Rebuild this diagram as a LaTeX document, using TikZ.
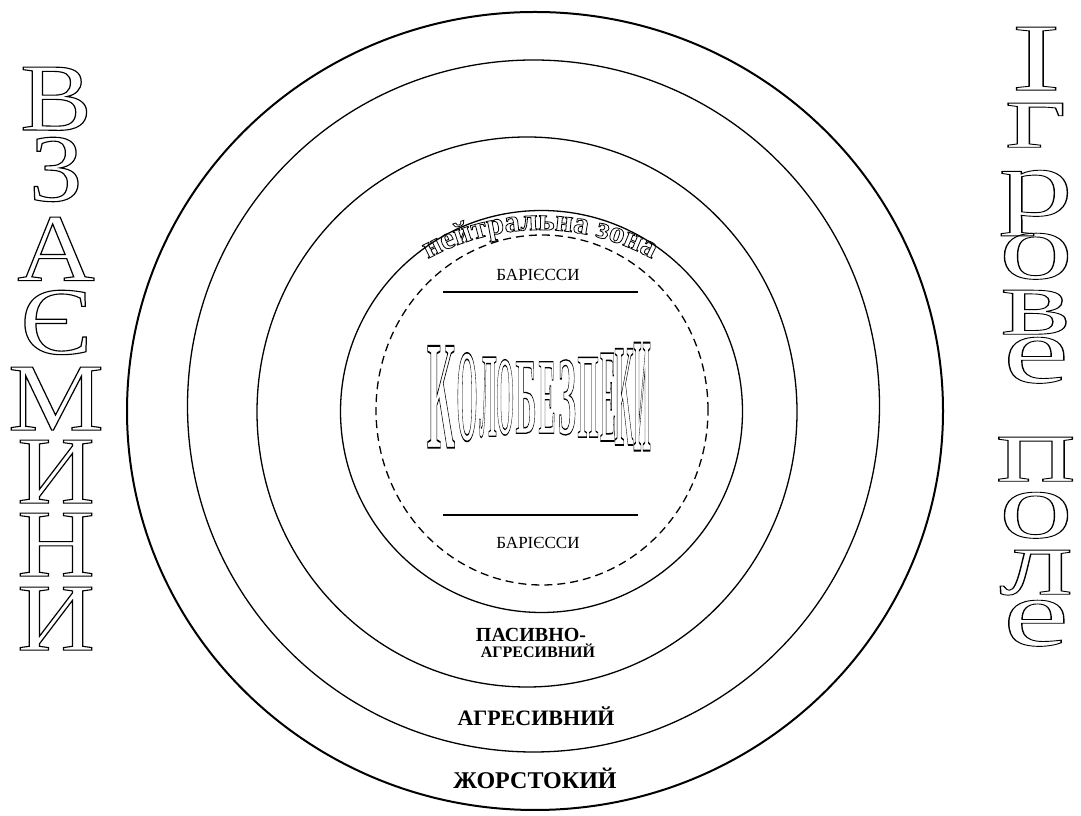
\documentclass[tikz,border=0pt]{standalone}
\usepackage{fontspec}
\setmainfont{Liberation Serif}
\usetikzlibrary{decorations.text}
\newcommand\olw[2]{\special{pdf:literal direct 1 Tr #1 w}#2\special{pdf:literal direct 0 Tr 0.4 w}}
\newcommand\olon{\special{pdf:literal direct 1 Tr 0.8 w}}
\begin{document}
\begin{tikzpicture}[x=1pt,y=1pt,
  ring/.style={line width=1.3pt},
  lbl/.style={inner sep=0pt, anchor=base},
  sidel/.style={inner sep=0pt, anchor=north, font=\fontsize{96}{96}\selectfont},
  bigl/.style={inner sep=0pt}]
\useasboundingbox (0,0) rectangle (1081,816);
\fill[white] (0,0) rectangle (1081,816);
% rings
\draw[line width=2pt] (535,405) ellipse [x radius=408pt, y radius=399pt];
\draw[ring] (533.5,410) ellipse [x radius=346pt, y radius=346pt];
\draw[ring] (527,404) ellipse [x radius=270pt, y radius=275pt];
\draw[ring] (541.5,404.5) ellipse [x radius=201pt, y radius=201pt];
\draw[ring, dash pattern=on 8pt off 5pt] (542,406) ellipse [x radius=166pt, y radius=175pt];
% barrier lines
\coordinate (l1a) at (443,524); \coordinate (l1b) at (638,524);
\coordinate (l2a) at (443,301); \coordinate (l2b) at (638,301);
\draw[line width=1.4pt] (l1a) -- (l1b);
\draw[line width=1.4pt] (l2a) -- (l2b);
\node[lbl, font=\fontsize{17}{17}\selectfont] (b1) at (538,535) {БАРІЄССИ};
\node[lbl, font=\fontsize{17}{17}\selectfont] (b2) at (538,267) {БАРІЄССИ};
% zone labels
\node[lbl, font=\bfseries\fontsize{20}{20}\selectfont] (pa1) at (531,174) {ПАСИВНО-};
\node[lbl, font=\bfseries\fontsize{16}{16}\selectfont] (pa2) at (538,158) {АГРЕСИВНИЙ};
\node[lbl, font=\bfseries\fontsize{22}{22}\selectfont] (ag) at (536,90) {АГРЕСИВНИЙ};
\node[lbl, font=\bfseries\fontsize{24}{24}\selectfont] (zh) at (535,27) {ЖОРСТОКИЙ};
% central title
\foreach \ch/\xc/\w [count=\i] in {К/441/28,О/467/21,Л/488/17,О/505/18,Б/526/21,Е/547/17,З/567/18,П/588/21,Е/608/16,К/624/19,И/642/17}{
  \pgfmathsetmacro\tt{((\xc-537)/112)^2}
  \pgfmathsetmacro\hh{71+42*\tt}
  \pgfmathsetmacro\yc{418.5+\tt}
  \node[bigl] (k\i) at (\xc,\yc) {\resizebox{\w pt}{\hh pt}{\bfseries\fontsize{50}{50}\selectfont\olw{0.6}{\ch}}};
}
% left vertical word
\foreach \ch/\y [count=\i] in {В/749,З/679,А/599,Є/526,М/449,И/376,Н/303,И/229}{
  \node[sidel] (w\i) at (56,\y) {\scalebox{1.12}[1]{\olw{1.1}{\ch}}};
}
% right vertical words
\foreach \ch/\y [count=\i] in {І/789,г/713,р/646,о/583,в/526,е/479,п/379,о/324,л/266,е/216}{
  \node[sidel] (g\i) at (1036,\y) {\scalebox{1.55}[1]{\olw{0.9}{\ch}}};
}
% arched label (drawn last)
\path[decorate, decoration={text along path, text align=center,
  text={|\bfseries\fontsize{31}{31}\selectfont\olon|нейтральна зона}}]
  (540,354) ++(150:232pt) arc[start angle=150, end angle=30, radius=232pt];
\end{tikzpicture}
\end{document}
